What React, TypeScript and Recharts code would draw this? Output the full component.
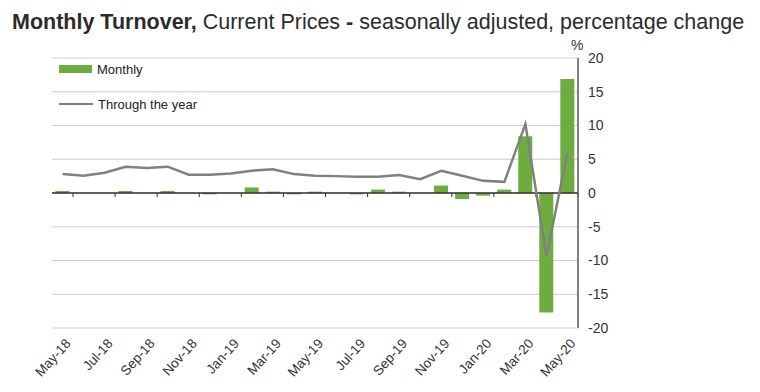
import React from "react";
import {
  ComposedChart,
  Bar,
  Line,
  XAxis,
  YAxis,
  CartesianGrid,
  ReferenceLine,
} from "recharts";

const months = [
  "May-18", "Jun-18", "Jul-18", "Aug-18", "Sep-18", "Oct-18", "Nov-18", "Dec-18",
  "Jan-19", "Feb-19", "Mar-19", "Apr-19", "May-19", "Jun-19", "Jul-19", "Aug-19",
  "Sep-19", "Oct-19", "Nov-19", "Dec-19", "Jan-20", "Feb-20", "Mar-20", "Apr-20",
  "May-20",
];

// monthly % change (bars)
const monthly = [
  0.3, 0.0, 0.0, 0.3, 0.0, 0.3, 0.0, -0.2, 0.0, 0.8, 0.2, -0.2, 0.2, 0.0, -0.2,
  0.5, 0.2, 0.0, 1.1, -0.9, -0.4, 0.5, 8.4, -17.7, 16.9,
];

// through the year % change (line)
const throughYear = [
  2.8, 2.55, 3.0, 3.9, 3.7, 3.9, 2.7, 2.7, 2.9, 3.3, 3.5, 2.8, 2.55, 2.5, 2.4,
  2.4, 2.65, 2.05, 3.3, 2.55, 1.8, 1.65, 10.2, -9.4, 6.0,
];

const yTicks = [-20, -15, -10, -5, 0, 5, 10, 15, 20];

const GREEN = "#6dad3f";
const GREY = "#808080";
const FONT = "'Liberation Sans', Arial, sans-serif";

const data = months.map((m, i) => ({
  month: m,
  monthly: monthly[i],
  through: throughYear[i],
}));

const MonthTick = (props: any) => {
  const { x, y, payload } = props;
  return (
    <g transform={`translate(${x},${y})`}>
      <text
        x={0}
        y={0}
        dy={12}
        textAnchor="end"
        transform="rotate(-48)"
        fontSize={13.5}
        fill="#333"
        fontFamily={FONT}
      >
        {payload.value}
      </text>
    </g>
  );
};

// zero line with small tick marks every two months
const ZeroLine = (props: any) => {
  const { x1, y1, x2 } = props;
  const step = (x2 - x1) / months.length;
  const marks = [];
  for (let i = 0; i < months.length; i += 2) {
    const x = x1 + i * step;
    marks.push(<line key={i} x1={x} x2={x} y1={y1} y2={y1 + 4} stroke="#333" strokeWidth={1} />);
  }
  return (
    <g>
      <line x1={x1} x2={x2} y1={y1} y2={y1} stroke="#333" strokeWidth={1.3} />
      {marks}
    </g>
  );
};

const LegendBox = () => (
  <div
    style={{
      position: "absolute",
      left: 59,
      top: 61,
      fontFamily: FONT,
      fontSize: 13,
      color: "#222",
    }}
  >
    <div style={{ display: "flex", alignItems: "center", height: 16 }}>
      <span style={{ display: "inline-block", width: 33, height: 8, background: GREEN, marginRight: 5 }} />
      Monthly
    </div>
    <div style={{ display: "flex", alignItems: "center", height: 16, marginTop: 19 }}>
      <span style={{ display: "inline-block", width: 34, height: 2, background: GREY, marginRight: 5 }} />
      Through the year
    </div>
  </div>
);

const App: React.FC = () => {
  return (
    <div style={{ position: "absolute", left: 0, top: 0, width: 760, height: 392, background: "#fff" }}>
      <div
        style={{
          position: "absolute",
          left: 12,
          top: 10,
          fontFamily: FONT,
          fontSize: 21.5,
          color: "#2b2b2b",
          whiteSpace: "nowrap",
        }}
      >
        <b>Monthly Turnover,</b> Current Prices <b>-</b> seasonally adjusted, percentage change
      </div>
      <div
        style={{
          position: "absolute",
          left: 571,
          top: 37,
          fontFamily: FONT,
          fontSize: 14,
          color: "#333",
        }}
      >
        %
      </div>
      <ComposedChart
        width={760}
        height={392}
        data={data}
        margin={{ top: 58, right: 142, bottom: 0, left: 52 }}
        barCategoryGap="16%"
      >
        <CartesianGrid vertical={false} stroke="#cdcdcd" strokeWidth={1.2} />
        <XAxis
          dataKey="month"
          interval={1}
          axisLine={false}
          tickLine={false}
          height={64}
          tick={<MonthTick />}
        />
        <YAxis
          orientation="right"
          domain={[-20, 20]}
          ticks={yTicks}
          width={40}
          tickLine={false}
          axisLine={{ stroke: "#595959", strokeWidth: 1.5 }}
          tickMargin={4}
          tick={{ fontSize: 14, fill: "#333", fontFamily: FONT, textAnchor: "start" }}
        />
        <Bar dataKey="monthly" name="Monthly" fill={GREEN} isAnimationActive={false} />
        <ReferenceLine y={0} shape={<ZeroLine />} />
        <Line
          dataKey="through"
          name="Through the year"
          type="linear"
          stroke={GREY}
          strokeWidth={2.5}
          dot={false}
          isAnimationActive={false}
        />
      </ComposedChart>
      <LegendBox />
    </div>
  );
};

export default App;
